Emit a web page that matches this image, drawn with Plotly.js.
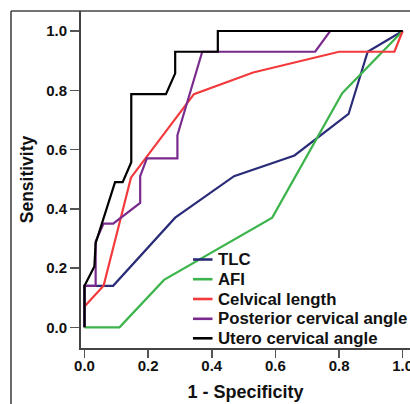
<!DOCTYPE html>
<html>
<head>
<meta charset="utf-8">
<script src="https://cdn.plot.ly/plotly-3.0.1.min.js"></script>
<style>
html,body{margin:0;padding:0;background:#fff;overflow:hidden;}
#chart{width:410px;height:404px;}
</style>
</head>
<body>
<div id="chart"></div>
<script>
// ROC curves: 1 - Specificity (x) vs Sensitivity (y)
const tlcX = [0, 0, 0.09, 0.285, 0.47, 0.66, 0.83, 0.89, 1];
const tlcY = [0, 0.14, 0.14, 0.37, 0.51, 0.58, 0.72, 0.93, 1];

const afiX = [0, 0.11, 0.25, 0.59, 0.81, 1];
const afiY = [0, 0, 0.16, 0.37, 0.79, 1];

const celvicalX = [0, 0.06, 0.146, 0.344, 0.53, 0.80, 0.974, 1];
const celvicalY = [0.07, 0.14, 0.505, 0.787, 0.86, 0.93, 0.93, 1];

const posteriorX = [0, 0, 0.035, 0.035, 0.06, 0.09, 0.175, 0.175, 0.196, 0.292, 0.292, 0.37, 0.725, 0.772, 1];
const posteriorY = [0, 0.14, 0.14, 0.29, 0.35, 0.35, 0.42, 0.51, 0.57, 0.57, 0.648, 0.93, 0.93, 1, 1];

const uteroX = [0, 0, 0.031, 0.035, 0.096, 0.12, 0.147, 0.147, 0.256, 0.285, 0.285, 0.419, 0.419, 1];
const uteroY = [0, 0.14, 0.205, 0.284, 0.49, 0.49, 0.557, 0.787, 0.787, 0.857, 0.93, 0.93, 1, 1];

const seriesNames = ["TLC", "AFI", "Celvical length", "Posterior cervical angle", "Utero cervical angle"];
const seriesColors = ["#2a2c78", "#3cb44b", "#f23a3c", "#7a2a8c", "#000000"];
const tickVals = [0, 0.2, 0.4, 0.6, 0.8, 1.0];
const tickText = ["0.0", "0.2", "0.4", "0.6", "0.8", "1.0"];

const xs = [tlcX, afiX, celvicalX, posteriorX, uteroX];
const ys = [tlcY, afiY, celvicalY, posteriorY, uteroY];

const traces = seriesNames.map((n, i) => ({
  type: "scatter", mode: "lines", name: n,
  x: xs[i], y: ys[i],
  line: {color: seriesColors[i], width: 2.2},
  showlegend: false, hoverinfo: "skip"
}));

// layout geometry (pixels)
const W = 410, H = 404, L = 81, R = 0, T = 11, B = 56;
const pw = W - L - R, ph = H - T - B;
const px = v => (v - L) / pw;          // pixel x -> paper
const py = v => (H - B - v) / ph;      // pixel y -> paper

const font = "Arial, 'Liberation Sans', sans-serif";

const shapes = [
  // outer frame (top and left edges)
  {type: "line", xref: "paper", yref: "paper", x0: px(11), x1: px(412), y0: py(11), y1: py(11), line: {color: "#444", width: 1.6}},
  {type: "line", xref: "paper", yref: "paper", x0: px(11), x1: px(11), y0: py(11), y1: py(406), line: {color: "#444", width: 1.6}}
];
const annotations = [];
const legendRowY = [259.5, 279.2, 299, 318.8, 338.3];
seriesNames.forEach((n, i) => {
  const yy = legendRowY[i];
  shapes.push({type: "line", xref: "paper", yref: "paper", x0: px(193), x1: px(212.5), y0: py(yy), y1: py(yy),
    line: {color: seriesColors[i], width: 2.6}});
  annotations.push({xref: "paper", yref: "paper", x: px(215.5), y: py(yy), xanchor: "left", yanchor: "middle",
    text: "<b>" + n + "</b>", showarrow: false, font: {family: font, size: 16.8, color: "#111"}});
});

const layout = {
  width: W, height: H,
  margin: {l: L, r: R, t: T, b: B, pad: 0},
  paper_bgcolor: "#fff", plot_bgcolor: "#fff",
  showlegend: false,
  font: {family: font, color: "#111"},
  xaxis: {
    range: [-0.011, 1.023], tickvals: tickVals, ticktext: tickText,
    showgrid: false, zeroline: false, showline: true, linecolor: "#444", linewidth: 2,
    ticks: "outside", ticklen: 8, tickwidth: 1.5, tickcolor: "#555",
    ticklabeloverflow: "allow", ticklabelstandoff: -5,
    tickfont: {family: font, size: 15, color: "#111", weight: "bold"},
    title: {text: "<b>1 - Specificity</b>", font: {family: font, size: 18, color: "#111"}, standoff: 12}
  },
  yaxis: {
    range: [-0.0699, 1.0675], tickvals: tickVals, ticktext: tickText,
    showgrid: false, zeroline: false, showline: true, linecolor: "#444", linewidth: 2,
    ticks: "outside", ticklen: 9, tickwidth: 1.5, tickcolor: "#555",
    tickfont: {family: font, size: 15, color: "#111", weight: "bold"},
    title: {text: "<b>Sensitivity</b>", font: {family: font, size: 17.5, color: "#111"}, standoff: 8}
  },
  shapes: shapes,
  annotations: annotations
};

Plotly.newPlot("chart", traces, layout, {displayModeBar: false, staticPlot: true});
</script>
</body>
</html>
